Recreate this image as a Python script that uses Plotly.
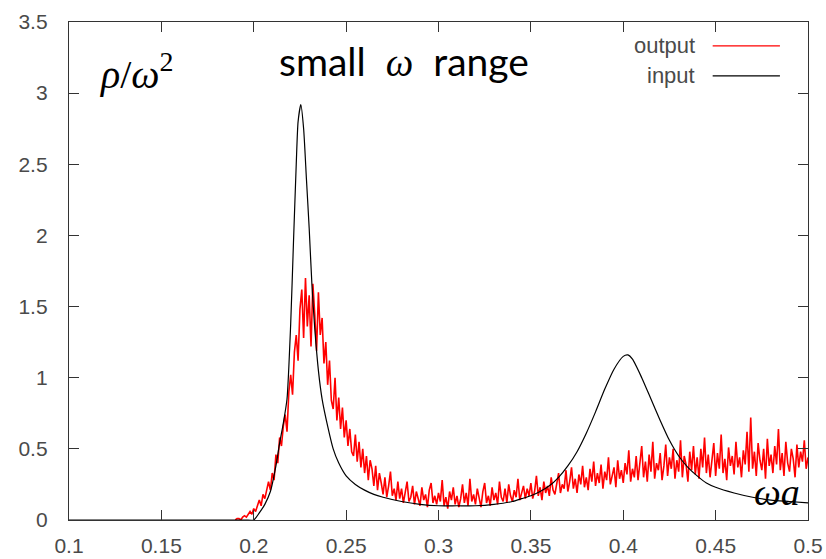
import plotly.graph_objects as go

# ---------------- data ----------------
input_x = [0.10, 0.195, 0.200, 0.203, 0.206, 0.209, 0.212, 0.214, 0.216, 0.218,
           0.220, 0.2215, 0.223, 0.224, 0.2255, 0.227, 0.2285, 0.230, 0.2315, 0.233,
           0.235, 0.237, 0.240, 0.243, 0.246, 0.250, 0.255, 0.260, 0.265, 0.270,
           0.280, 0.290, 0.300, 0.310, 0.320, 0.330, 0.340, 0.345, 0.350, 0.355,
           0.360, 0.365, 0.370, 0.375, 0.380, 0.385, 0.390, 0.395, 0.400, 0.4025,
           0.405, 0.410, 0.415, 0.420, 0.425, 0.430, 0.435, 0.440, 0.445, 0.450,
           0.460, 0.470, 0.480, 0.490, 0.500]
input_y = [0.00, 0.00, 0.00, 0.05, 0.11, 0.20, 0.38, 0.54, 0.68, 0.85,
           1.38, 1.95, 2.50, 2.80, 2.92, 2.75, 2.40, 2.05, 1.65, 1.35,
           1.05, 0.85, 0.66, 0.50, 0.40, 0.31, 0.25, 0.21, 0.18, 0.16,
           0.13, 0.11, 0.10, 0.10, 0.10, 0.11, 0.13, 0.15, 0.17, 0.20,
           0.24, 0.30, 0.38, 0.48, 0.61, 0.76, 0.92, 1.06, 1.15, 1.16,
           1.13, 1.00, 0.85, 0.70, 0.56, 0.45, 0.37, 0.31, 0.26, 0.23,
           0.19, 0.16, 0.14, 0.13, 0.12]

output_x_start = 0.190
output_x_step = 0.001
output_y = [
    0.00, 0.01, 0.01, 0.00, 0.02, 0.03, 0.02, 0.04, 0.06, 0.04,
    0.08, 0.06, 0.11, 0.14, 0.10, 0.18, 0.15, 0.22, 0.27, 0.21,
    0.33, 0.28, 0.46, 0.40, 0.58, 0.52, 0.66, 0.74, 0.62, 0.90,
    1.02, 0.88, 1.18, 1.30, 1.12, 1.48, 1.62, 1.28, 1.70, 1.36,
    1.58, 1.22, 1.66, 1.45, 1.19, 1.60, 1.30, 1.42, 1.10, 1.25,
    0.95, 1.12, 0.84, 0.78, 1.00, 0.70, 0.86, 0.64, 0.79, 0.58,
    0.70, 0.52, 0.64, 0.48, 0.45, 0.60, 0.41, 0.55, 0.37, 0.50,
    0.33, 0.45, 0.28, 0.42, 0.36, 0.24, 0.38, 0.21, 0.33, 0.26,
    0.18, 0.30, 0.16, 0.24, 0.34, 0.17, 0.22, 0.14, 0.27, 0.15,
    0.22, 0.12, 0.19, 0.27, 0.13, 0.16, 0.24, 0.11, 0.20, 0.15,
    0.10, 0.23, 0.14, 0.18, 0.09, 0.21, 0.26, 0.12, 0.17, 0.11,
    0.19, 0.13, 0.28, 0.10, 0.16, 0.08, 0.20, 0.14, 0.23, 0.11,
    0.17, 0.09, 0.15, 0.25, 0.12, 0.19, 0.10, 0.29, 0.13, 0.18,
    0.11, 0.22, 0.15, 0.09, 0.20, 0.26, 0.12, 0.17, 0.10, 0.23,
    0.14, 0.19, 0.11, 0.27, 0.16, 0.13, 0.22, 0.12, 0.25, 0.17,
    0.13, 0.21, 0.16, 0.29, 0.14, 0.19, 0.24, 0.15, 0.22, 0.17,
    0.26, 0.15, 0.20, 0.31, 0.17, 0.23, 0.14, 0.27, 0.19, 0.24,
    0.17, 0.30, 0.21, 0.18, 0.27, 0.33, 0.19, 0.25, 0.22, 0.35,
    0.20, 0.27, 0.37, 0.22, 0.29, 0.19, 0.32, 0.25, 0.38, 0.23,
    0.30, 0.21, 0.36, 0.27, 0.41, 0.24, 0.33, 0.26, 0.39, 0.22,
    0.34, 0.28, 0.44, 0.25, 0.31, 0.37, 0.23, 0.42, 0.29, 0.35,
    0.26, 0.40, 0.32, 0.49, 0.27, 0.36, 0.30, 0.45, 0.28, 0.38,
    0.52, 0.30, 0.41, 0.27, 0.46, 0.34, 0.55, 0.29, 0.40, 0.35,
    0.47, 0.28, 0.38, 0.53, 0.31, 0.44, 0.36, 0.50, 0.29, 0.42,
    0.34, 0.56, 0.30, 0.45, 0.39, 0.27, 0.48, 0.35, 0.52, 0.32,
    0.44, 0.29, 0.50, 0.37, 0.58, 0.33, 0.46, 0.30, 0.41, 0.54,
    0.31, 0.47, 0.36, 0.60, 0.33, 0.43, 0.28, 0.51, 0.38, 0.45,
    0.32, 0.55, 0.37, 0.44, 0.30, 0.49, 0.39, 0.62, 0.34, 0.72,
    0.36, 0.48, 0.31, 0.54, 0.42, 0.35, 0.50, 0.29, 0.57, 0.38,
    0.46, 0.33, 0.52, 0.39, 0.64, 0.35, 0.47, 0.31, 0.55, 0.40,
    0.34, 0.50, 0.43, 0.30, 0.53, 0.37, 0.48, 0.41, 0.56, 0.36,
    0.44,
]
output_x = [round(output_x_start + i * output_x_step, 4) for i in range(len(output_y))]

x_ticks = [0.1, 0.15, 0.2, 0.25, 0.3, 0.35, 0.4, 0.45, 0.5]
x_tick_labels = ["0.1", "0.15", "0.2", "0.25", "0.3", "0.35", "0.4", "0.45", "0.5"]
y_ticks = [0, 0.5, 1, 1.5, 2, 2.5, 3, 3.5]
y_tick_labels = ["0", "0.5", "1", "1.5", "2", "2.5", "3", "3.5"]

# ---------------- figure ----------------
fig = go.Figure()
fig.add_trace(go.Scatter(x=output_x, y=output_y, mode="lines",
                         line=dict(color="#ff0000", width=1.6), name="output",
                         showlegend=False))
fig.add_trace(go.Scatter(x=input_x, y=input_y, mode="lines",
                         line=dict(color="#000000", width=1.2, shape="spline", smoothing=0.6),
                         name="input", showlegend=False))

tick_font = dict(family="Liberation Sans, Arial, sans-serif", size=21, color="#4a4a4a")
axis_common = dict(showline=True, linecolor="#333333", linewidth=1.3, mirror="allticks",
                   ticks="inside", ticklen=10, tickcolor="#333333", tickwidth=1.2,
                   showgrid=False, zeroline=False, tickfont=tick_font, automargin=False)

fig.update_layout(
    width=826, height=559,
    margin=dict(l=69, r=18, t=22, b=39),
    paper_bgcolor="white", plot_bgcolor="white",
    xaxis=dict(range=[0.1, 0.5], tickvals=x_ticks, ticktext=x_tick_labels,
               ticklabelstandoff=7, **axis_common),
    yaxis=dict(range=[0, 3.5], tickvals=y_ticks, ticktext=y_tick_labels,
               ticklabelstandoff=16, **axis_common),
)

serif = "Liberation Serif, DejaVu Serif, serif"
fig.add_annotation(xref="paper", yref="paper", x=0.038, y=0.90, xanchor="left", yanchor="middle",
                   text="<i>ρ</i>/<i>ω</i><sup>2</sup>", showarrow=False,
                   font=dict(family=serif, size=40, color="black"))
fig.add_annotation(xref="paper", yref="paper", x=0.281, y=0.922, xanchor="left", yanchor="middle",
                   text="small  <span style=\"font-family:Liberation Serif;font-style:italic\">ω</span>  range",
                   showarrow=False,
                   font=dict(family="Lato, Open Sans, sans-serif", size=39, color="black"))
fig.add_annotation(xref="paper", yref="paper", x=0.992, y=0.056, xanchor="right", yanchor="middle",
                   text="<i>ωa</i>", showarrow=False,
                   font=dict(family=serif, size=38, color="black"))

# legend (gnuplot style: text then sample line)
legend_font = dict(family="Liberation Sans, Arial, sans-serif", size=22, color="#4a4a4a")
legend_rows = [("output", "#ff0000", 0.952), ("input", "#000000", 0.892)]
for label, col, yy in legend_rows:
    fig.add_annotation(xref="paper", yref="paper", x=0.850, y=yy, xanchor="right", yanchor="middle",
                       text=label, showarrow=False, font=legend_font)
    fig.add_shape(type="line", xref="paper", yref="paper", x0=0.871, x1=0.962, y0=yy, y1=yy,
                  line=dict(color=col, width=1.3))

fig.write_html("out.html")
